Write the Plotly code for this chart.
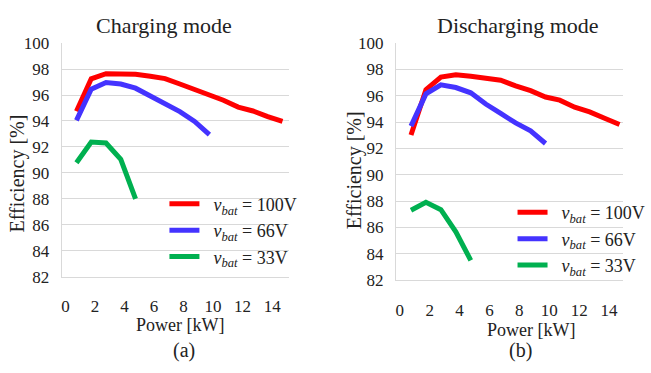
import plotly.graph_objects as go

# ---------------- data ----------------
power_100 = [0.75, 1.75, 2.75, 3.75, 4.75, 5.75, 6.75, 7.75, 8.75, 9.75, 10.7, 11.7, 12.7, 13.7, 14.7]
power_66 = [0.75, 1.75, 2.75, 3.75, 4.75, 5.75, 6.75, 7.75, 8.75, 9.75]
power_33 = [0.75, 1.75, 2.75, 3.75, 4.75]

ch_100 = [94.75, 97.25, 97.65, 97.65, 97.6, 97.45, 97.27, 96.85, 96.45, 96.02, 95.6, 95.07, 94.77, 94.33, 93.97]
ch_66 = [94.05, 96.45, 96.97, 96.85, 96.53, 95.92, 95.31, 94.72, 93.97, 92.95]
ch_33 = [90.78, 92.38, 92.3, 91.05, 88.0]

dis_100 = [93.03, 96.47, 97.43, 97.6, 97.48, 97.31, 97.19, 96.75, 96.39, 95.91, 95.67, 95.14, 94.78, 94.3, 93.82]
dis_66 = [93.7, 96.15, 96.83, 96.63, 96.23, 95.38, 94.66, 93.94, 93.34, 92.38]
dis_33 = [87.31, 87.91, 87.35, 85.67, 83.5]

labels = ["<i>v</i><sub><i>bat</i></sub> = 100V",
          "<i>v</i><sub><i>bat</i></sub> = 66V",
          "<i>v</i><sub><i>bat</i></sub> = 33V"]
colors = ["#FF0000", "#4433FF", "#00B050"]
x_ticks = [0, 2, 4, 6, 8, 10, 12, 14]
y_ticks = [82, 84, 86, 88, 90, 92, 94, 96, 98, 100]

W, H = 651, 373
FONT = "Liberation Serif, Times New Roman, serif"
GRID = "#D9D9D9"
TXT = "#222222"

def px(x):
    return x / W

def py(y):
    return 1 - y / H

fig = go.Figure()

panels = [
    (power_100, power_66, power_33, ch_100, ch_66, ch_33, "x", "y", "legend"),
    (power_100, power_66, power_33, dis_100, dis_66, dis_33, "x2", "y2", "legend2"),
]
for p100, p66, p33, e100, e66, e33, xa, ya, lg in panels:
    for xs, ys, name, col in zip([p100, p66, p33], [e100, e66, e33], labels, colors):
        fig.add_trace(go.Scatter(
            x=xs, y=ys, mode="lines", name="&nbsp;&nbsp;" + name,
            line=dict(color=col, width=5), xaxis=xa, yaxis=ya, legend=lg,
        ))

xcommon = dict(showgrid=False, zeroline=False, showline=True, linecolor=GRID, linewidth=1,
               tickvals=x_ticks, ticks="", ticklabelstandoff=14,
               tickfont=dict(family=FONT, size=17, color=TXT))
ycommon = dict(showgrid=True, gridcolor=GRID, gridwidth=1, zeroline=False,
               showline=True, linecolor=GRID, linewidth=1,
               tickvals=y_ticks, range=[82, 100], ticks="", ticklabelstandoff=8,
               tickfont=dict(family=FONT, size=17, color=TXT))

fig.update_layout(
    width=W, height=H,
    margin=dict(l=0, r=0, t=0, b=0),
    paper_bgcolor="white", plot_bgcolor="white",
    font=dict(family=FONT, color=TXT),
    xaxis=dict(domain=[px(64), px(301)], range=[-0.26, 15.17], anchor="y", **xcommon),
    yaxis=dict(domain=[py(282), py(36)], anchor="x", **ycommon),
    xaxis2=dict(domain=[px(411.7), px(648)], range=[-0.26, 14.94], anchor="y2", **xcommon),
    yaxis2=dict(domain=[py(285.7), py(36)], anchor="x2", **ycommon),
    legend=dict(x=px(171), y=py(186), xanchor="left", yanchor="top",
                bgcolor="rgba(0,0,0,0)", font=dict(family=FONT, size=18, color=TXT)),
    legend2=dict(x=px(533), y=py(195), xanchor="left", yanchor="top",
                 bgcolor="rgba(0,0,0,0)", font=dict(family=FONT, size=18, color=TXT)),
    showlegend=True,
)

ann = [
    ("Charging mode", 171, 17, 22, 0),
    ("Discharging mode", 539, 17, 22, 0),
    ("Efficiency [%]", 18, 173, 20, -90),
    ("Efficiency [%]", 368, 170, 20, -90),
    ("Power [kW]", 187, 333, 18, 0),
    ("Power [kW]", 552, 338, 18, 0),
    ("(a)", 191, 360, 20, 0),
    ("(b)", 541, 360, 20, 0),
]
for text, x, y, size, rot in ann:
    fig.add_annotation(text=text, x=px(x), y=py(y), xref="paper", yref="paper",
                       xanchor="center", yanchor="middle", showarrow=False,
                       textangle=rot, font=dict(family=FONT, size=size, color=TXT))

fig.write_html("out.html")
